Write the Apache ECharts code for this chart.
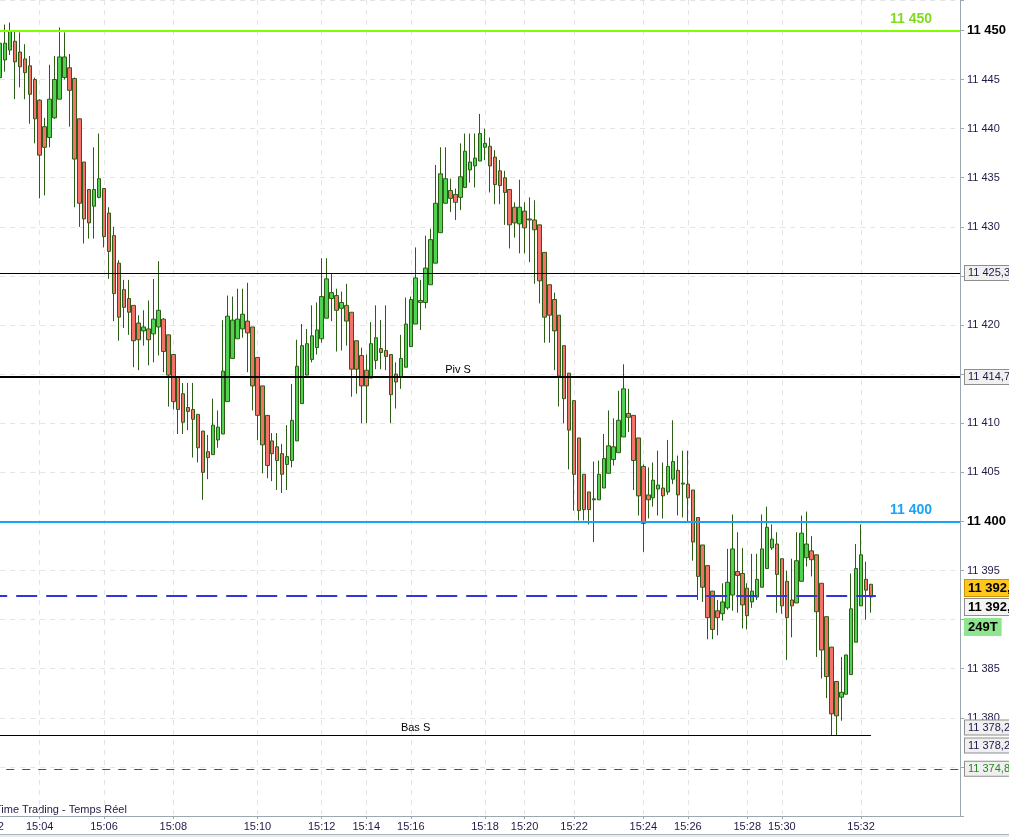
<!DOCTYPE html>
<html><head><meta charset="utf-8">
<script src="https://cdn.jsdelivr.net/npm/echarts@6/dist/echarts.min.js"></script>
<style>html,body{margin:0;padding:0;background:#fff;overflow:hidden}#c{width:1009px;height:837px}</style>
</head><body><div id="c"></div>
<script>
// ---- data (tick bars, 249T) ----
const opens = [
11445.2,11447.0,11448.0,11448.9,11447.8,11447.1,11446.4,11445.0,11442.9,11440.2,
11439.1,11441.1,11443.0,11445.2,11446.2,11445.1,11441.0,11436.6,11433.8,11432.1,
11433.0,11433.9,11431.4,11429.1,11426.3,11423.6,11422.7,11422.0,11420.2,11419.4,
11419.6,11419.1,11419.8,11420.6,11419.0,11417.0,11414.7,11413.0,11411.6,11411.4,
11410.9,11409.2,11407.1,11406.8,11408.3,11408.9,11412.2,11416.6,11418.6,11419.6,
11420.4,11419.8,11416.7,11413.8,11410.8,11408.2,11407.6,11406.9,11405.8,11406.2,
11408.2,11412.0,11414.9,11416.5,11417.7,11418.6,11420.7,11422.7,11423.0,11421.7,
11422.0,11421.3,11418.4,11416.9,11415.4,11414.6,11416.4,11417.6,11417.4,11417.0,
11415.0,11414.7,11415.7,11417.8,11420.1,11422.5,11422.3,11424.1,11426.3,11429.4,
11432.4,11433.7,11433.3,11433.0,11434.0,11435.8,11436.2,11436.7,11438.1,11438.2,
11437.1,11435.7,11435.0,11433.8,11432.0,11430.3,11431.6,11430.8,11430.7,11430.2,
11427.4,11424.1,11422.6,11421.0,11417.9,11415.1,11412.3,11408.5,11404.8,11403.0,
11402.2,11402.2,11403.4,11404.9,11406.3,11407.0,11408.6,11411.0,11410.8,11408.5,
11405.6,11402.7,11402.4,11403.3,11403.4,11403.0,11404.3,11405.2,11403.9,11403.8,
11403.2,11400.4,11397.6,11395.5,11392.9,11390.9,11390.6,11391.2,11392.5,11394.9,
11394.7,11393.2,11391.8,11392.3,11393.3,11395.2,11397.3,11397.7,11396.2,11393.9,
11392.0,11391.7,11393.9,11396.3,11397.0,11396.6,11393.7,11390.3,11387.2,11383.7,
11382.1,11382.4,11384.4,11387.7,11391.4,11394.1,11393.6];
const closes = [
11448.7,11448.7,11449.9,11446.8,11446.3,11445.7,11443.5,11441.0,11437.3,11438.1,
11443.0,11445.0,11447.3,11447.3,11443.9,11436.9,11432.4,11430.8,11430.4,11433.8,
11434.9,11429.0,11427.5,11423.2,11420.8,11421.8,11421.3,11418.4,11418.5,11419.8,
11418.5,11420.6,11421.5,11417.3,11414.9,11412.2,11411.4,11410.1,11411.2,11410.4,
11407.5,11405.0,11406.5,11409.8,11409.6,11415.3,11420.9,11420.5,11420.6,11421.1,
11419.2,11413.8,11410.8,11407.8,11405.7,11406.9,11406.2,11404.8,11406.6,11410.3,
11415.8,11417.9,11418.1,11418.9,11419.5,11422.9,11424.7,11423.3,11421.5,11422.3,
11420.4,11415.5,11415.5,11413.8,11413.8,11418.1,11418.7,11417.2,11416.8,11412.9,
11414.2,11416.6,11420.1,11422.6,11424.8,11422.3,11425.8,11428.7,11432.4,11435.4,
11434.9,11432.9,11432.5,11435.1,11437.7,11436.6,11437.0,11439.5,11438.5,11436.2,
11434.3,11434.2,11433.5,11430.2,11430.4,11432.0,11429.9,11430.7,11429.7,11424.5,
11420.8,11421.0,11419.4,11414.8,11412.5,11409.3,11404.8,11401.1,11401.2,11401.2,
11402.3,11404.8,11406.4,11407.7,11407.6,11410.3,11413.5,11410.6,11406.2,11402.6,
11399.8,11402.2,11404.2,11403.7,11402.6,11405.6,11406.1,11402.7,11403.8,11402.4,
11397.9,11394.4,11393.3,11390.2,11389.0,11390.2,11391.8,11393.8,11397.2,11394.5,
11391.5,11390.4,11392.9,11394.1,11397.2,11399.4,11398.2,11394.6,11391.4,11390.2,
11391.4,11396.0,11398.8,11397.7,11396.1,11390.8,11386.9,11384.2,11380.4,11380.2,
11382.6,11386.4,11391.1,11395.2,11396.6,11393.0,11392.3];
const lows = [
11444.5,11445.8,11447.5,11443.0,11444.2,11443.0,11440.5,11438.5,11432.9,11433.2,
11438.1,11441.0,11443.0,11445.0,11440.2,11432.0,11430.0,11428.3,11428.8,11428.8,
11432.9,11427.9,11424.7,11420.4,11418.4,11419.7,11419.0,11415.7,11415.4,11417.9,
11415.9,11416.2,11416.9,11415.2,11411.7,11411.4,11408.9,11408.9,11409.3,11406.5,
11406.0,11402.2,11404.3,11406.8,11407.5,11408.9,11412.2,11416.6,11418.6,11418.7,
11415.2,11411.3,11408.3,11404.9,11404.4,11404.1,11403.2,11402.9,11403.2,11405.5,
11408.2,11412.0,11414.9,11416.2,11417.0,11418.2,11420.7,11420.4,11417.3,11417.4,
11417.9,11412.7,11413.0,11410.0,11410.0,11414.6,11415.5,11415.5,11415.4,11410.0,
11411.5,11413.5,11415.7,11417.8,11420.1,11419.5,11421.7,11424.1,11426.3,11429.4,
11432.4,11431.5,11430.7,11431.7,11434.0,11434.5,11434.0,11436.7,11436.8,11433.5,
11432.3,11432.3,11430.2,11427.8,11428.9,11427.3,11427.3,11426.4,11424.2,11422.2,
11418.2,11418.2,11415.4,11411.7,11410.0,11405.3,11401.1,11400.1,11400.1,11399.7,
11397.9,11402.2,11403.4,11404.9,11405.7,11407.0,11408.6,11409.1,11403.2,11400.6,
11396.9,11400.3,11401.5,11400.6,11400.3,11402.7,11403.8,11400.6,11400.4,11400.0,
11396.0,11392.0,11391.8,11388.0,11388.0,11388.4,11389.9,11391.0,11390.9,11390.7,
11389.1,11389.0,11391.2,11392.0,11393.3,11395.2,11397.1,11390.7,11390.6,11385.9,
11388.2,11391.7,11393.9,11395.4,11394.4,11386.2,11384.0,11382.0,11378.2,11378.2,
11379.7,11382.4,11384.4,11387.7,11391.4,11390.0,11390.7];
const highs = [
11449.5,11450.6,11450.8,11450.0,11449.8,11448.6,11447.4,11445.2,11443.0,11441.1,
11446.5,11447.4,11450.3,11449.8,11447.6,11445.2,11441.0,11436.6,11433.8,11438.1,
11439.5,11433.9,11432.0,11430.0,11426.6,11424.6,11424.6,11422.0,11421.0,11421.5,
11422.5,11424.7,11426.5,11420.7,11419.0,11417.0,11414.7,11414.1,11414.1,11414.1,
11410.9,11409.2,11408.8,11412.5,11411.3,11420.5,11423.0,11422.9,11423.7,11423.7,
11424.3,11419.8,11416.7,11413.8,11410.8,11409.0,11409.0,11407.9,11409.8,11414.0,
11418.5,11420.1,11419.6,11422.0,11422.3,11426.8,11426.8,11425.3,11423.7,11423.4,
11424.2,11421.3,11418.4,11417.7,11417.0,11420.3,11422.0,11420.5,11422.0,11417.0,
11416.2,11419.0,11422.8,11422.9,11427.9,11424.6,11429.1,11429.8,11436.3,11438.1,
11438.1,11434.9,11433.9,11438.5,11439.5,11439.5,11439.5,11441.5,11440.0,11439.1,
11437.8,11436.8,11435.7,11433.8,11432.5,11434.8,11432.5,11433.0,11432.7,11430.2,
11427.4,11424.1,11423.3,11421.0,11417.9,11415.1,11412.3,11408.5,11404.8,11403.0,
11406.1,11406.2,11408.9,11411.3,11410.5,11413.3,11416.0,11413.5,11410.8,11408.5,
11405.8,11405.5,11406.0,11407.2,11406.0,11408.3,11410.3,11406.7,11407.2,11407.2,
11403.2,11400.4,11397.6,11395.5,11392.9,11392.0,11393.7,11397.2,11400.7,11398.9,
11397.3,11393.7,11396.7,11396.7,11400.7,11401.5,11399.7,11398.9,11396.2,11395.0,
11396.2,11398.9,11400.6,11401.0,11398.5,11396.6,11393.7,11390.3,11387.2,11383.7,
11386.2,11386.4,11394.7,11397.7,11399.7,11395.9,11393.6];

// time labels and the bar index (0 = first bar) where each minute starts
const timeLabels = ['15:02','15:04','15:06','15:08','15:10','15:12','15:14','15:16','15:18','15:20','15:22','15:24','15:26','15:28','15:30','15:32'];
const timeLabelBars = [-2, 8, 21, 35, 52, 65, 74, 83, 98, 106, 116, 130, 139, 151, 158, 174];

// horizontal levels
const levelTop = 11450;       // 11 450
const levelR = 11425.3;
const levelPivS = 11414.7;
const level400 = 11400;
const lastPrice = 11392.4;
const levelBasS = 11378.2;
const levelLow = 11374.8;
const tickCount = '249T';

// y-axis ticks
const yMin = 11370, yMax = 11453.1, yStep = 5;
const yHidden = [11390, 11375, 11370];
const yBold = [11450, 11400];

// ---- build ----
const FONT = '"Liberation Sans", Arial, sans-serif';
const LEAD = 2, TRAIL = 18;
const NCAT = LEAD + opens.length + TRAIL;
const cats = Array.from({length: NCAT}, (_, i) => String(i));
const timeAt = {};
timeLabels.forEach((t, k) => { timeAt[timeLabelBars[k] + LEAD] = t; });
const candleData = opens.map((o, i) => [i + LEAD, o, closes[i], lows[i], highs[i]]);
const lastCat = LEAD + opens.length - 1;

const fmtNum = v => {
  const s = (Math.round(v * 10) / 10).toString().split('.');
  const int = s[0].replace(/\B(?=(\d{3})+(?!\d))/g, ' ');
  return s[1] ? int + ',' + s[1] : int;
};

const box = (text, extra) => Object.assign({
  show: true, position: 'end', distance: 5, formatter: text,
  backgroundColor: '#f0f0f0', borderColor: '#8e8e8e', borderWidth: 1,
  padding: [2, 40, 1, 3], color: '#1d1b46', fontSize: 11, fontFamily: FONT
}, extra || {});
const noLine = { color: 'rgba(0,0,0,0)', width: 0 };

const chart = echarts.init(document.getElementById('c'), null, {renderer: 'canvas'});
chart.setOption({
  animation: false,
  backgroundColor: '#ffffff',
  grid: { left: -9.78, right: 49, top: 0, bottom: 21, containLabel: false, outerBoundsMode: 'none' },
  xAxis: {
    type: 'category', data: cats, boundaryGap: false,
    axisLine: { lineStyle: { color: '#9ba8b0' } },
    axisTick: { show: true, interval: (i) => timeAt[i] !== undefined, length: 3, lineStyle: { color: '#9ba8b0' } },
    axisLabel: { interval: 0, margin: 5, color: '#1d1b46', fontSize: 11, fontFamily: FONT,
      formatter: (v, i) => timeAt[i] || '' },
    splitLine: { show: true, interval: (i) => timeAt[i] !== undefined, lineStyle: { color: '#e4e4e4', type: [5, 5] } }
  },
  yAxis: {
    type: 'value', position: 'right', min: yMin, max: yMax, interval: yStep,
    axisLine: { show: true, lineStyle: { color: '#9ba8b0' } },
    axisTick: { show: true, length: 4, lineStyle: { color: '#9ba8b0' } },
    axisLabel: { margin: 7, color: '#1d1b46', fontSize: 11, fontFamily: FONT,
      formatter: v => {
        const r = Math.round(v * 100) / 100;
        if (Math.abs(r % yStep) > 1e-6 || yHidden.indexOf(r) >= 0) return '';
        return yBold.indexOf(r) >= 0 ? '{b|' + fmtNum(r) + '}' : fmtNum(r);
      },
      rich: { b: { fontWeight: 'bold', color: '#000', fontSize: 13, fontFamily: FONT } } },
    splitLine: { show: true, lineStyle: { color: '#e4e4e4', type: [5, 5] } }
  },
  series: [{
    type: 'candlestick', data: candleData, encode: { x: 0, y: [1, 2, 3, 4] },
    barWidth: 4,
    itemStyle: { color: '#4fd24f', color0: '#f5726a', borderColor: '#2c5d14', borderColor0: '#2c5d14', borderWidth: 1 },
    markLine: {
      silent: true, symbol: ['none', 'none'], animation: false,
      label: { show: false },
      data: [
        { yAxis: levelTop, lineStyle: { color: '#80ff00', width: 2, type: 'solid' },
          label: { show: true, position: 'insideEndTop', distance: [28, 4], formatter: fmtNum(levelTop),
                   color: '#7fdc1c', fontWeight: 'bold', fontSize: 14, fontFamily: FONT } },
        { yAxis: levelR, lineStyle: { color: '#000', width: 1, type: 'solid' }, label: box(fmtNum(levelR)) },
        { yAxis: levelPivS, lineStyle: { color: '#000', width: 2, type: 'solid' }, label: box(fmtNum(levelPivS)) },
        { yAxis: levelPivS, lineStyle: noLine,
          label: { show: true, position: 'insideMiddleTop', distance: 2, offset: [-17, 0], formatter: 'Piv S',
                   color: '#000', fontSize: 11, fontFamily: FONT } },
        { yAxis: level400, lineStyle: { color: '#19a3f5', width: 2, type: 'solid' },
          label: { show: true, position: 'insideEndTop', distance: [28, 4], formatter: fmtNum(level400),
                   color: '#19a3f5', fontWeight: 'bold', fontSize: 14, fontFamily: FONT } },
        [ { coord: [0, lastPrice], lineStyle: { color: '#3434dc', width: 2, type: [21, 9], dashOffset: 4 } },
          { coord: [lastCat + 1, lastPrice] } ],
        { yAxis: lastPrice, lineStyle: noLine,
          label: box(fmtNum(Math.floor(lastPrice)) + ',', { offset: [0, -8], fontWeight: 'bold', fontSize: 13, color: '#000',
                     backgroundColor: '#ffc61e', borderColor: '#c89400', padding: [2, 40, 1, 3] }) },
        { yAxis: lastPrice, lineStyle: noLine,
          label: box(fmtNum(Math.floor(lastPrice)) + ',', { offset: [0, 11], fontWeight: 'bold', fontSize: 13, color: '#000',
                     backgroundColor: '#f4f4f4', padding: [2, 40, 1, 3] }) },
        { yAxis: lastPrice, lineStyle: noLine,
          label: box(tickCount, { offset: [0, 31], fontWeight: 'bold', fontSize: 13, color: '#000',
                     backgroundColor: '#8fe58f', borderColor: '#8fe58f', padding: [2, 3, 1, 3] }) },
        [ { coord: [0, levelBasS], lineStyle: { color: '#000', width: 1, type: 'solid' },
            label: { show: true, position: 'insideMiddleTop', distance: 2, offset: [-15, 0], formatter: 'Bas S',
                     color: '#000', fontSize: 11, fontFamily: FONT } },
          { coord: [lastCat, levelBasS] } ],
        { yAxis: levelBasS, lineStyle: noLine, label: box(fmtNum(levelBasS), { offset: [0, -8] }) },
        { yAxis: levelBasS, lineStyle: noLine, label: box(fmtNum(levelBasS), { offset: [0, 10] }) },
        { yAxis: levelLow, lineStyle: { color: '#505050', width: 1, type: [8, 8] },
          label: box(fmtNum(levelLow), { color: '#1f8a1f' }) }
      ]
    }
  }],
  graphic: [
    { type: 'text', left: -5, top: 804, silent: true,
      style: { text: 'Time Trading - Temps Réel', fill: '#1d1b46', font: '11px ' + FONT } },
    { type: 'rect', left: 0, top: 834, silent: true, shape: { width: 1009, height: 1 }, style: { fill: '#aab5bd' } },
    { type: 'rect', left: 0, top: 835, silent: true, shape: { width: 1009, height: 2 }, style: { fill: '#e6ebef' } }
  ]
});
</script></body></html>
